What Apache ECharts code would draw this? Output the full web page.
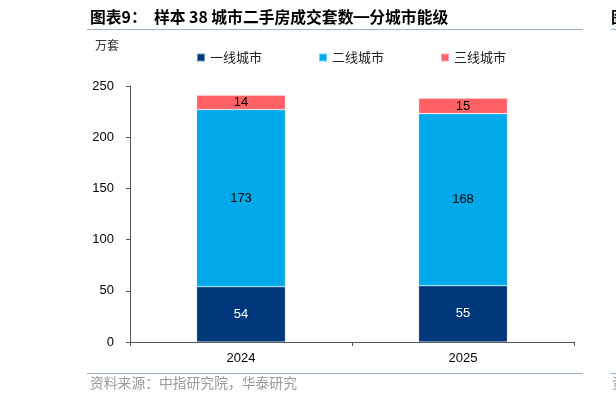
<!DOCTYPE html>
<html>
<head>
<meta charset="utf-8">
<script src="https://cdn.jsdelivr.net/npm/echarts@6/dist/echarts.min.js"></script>
<style>
html,body{margin:0;padding:0;background:#fff;}
#c{width:616px;height:403px;}
</style>
</head>
<body>
<div id="c"></div>
<script>
const categories = ['2024', '2025'];
const tier1 = [54, 55];
const tier2 = [173, 168];
const tier3 = [14, 15];
const seriesNames = ['一线城市', '二线城市', '三线城市'];
const yTicks = [0, 50, 100, 150, 200, 250];

const chart = echarts.init(document.getElementById('c'));
const cjk = '"Noto Sans CJK SC", sans-serif';
const lat = '"Liberation Sans", Arial, sans-serif';
const colors = ['#00387B', '#00AAEA', '#FF6266'];
const labelColors = ['#ffffff', '#000000', '#000000'];
const dataSets = [tier1, tier2, tier3];

chart.setOption({
  animation: false,
  color: colors,
  grid: { left: 130, right: 42, top: 86, bottom: 61 },
  legend: {
    top: 46, left: 191,
    itemWidth: 8, itemHeight: 8, itemGap: 56,
    icon: 'rect',
    textStyle: { fontFamily: cjk, fontSize: 13, color: '#222' },
    data: seriesNames
  },
  xAxis: {
    type: 'category',
    data: categories,
    axisLine: { lineStyle: { color: '#555', width: 1 } },
    axisTick: { show: true, alignWithLabel: false, length: 4, lineStyle: { color: '#555' } },
    axisLabel: { margin: 10, fontFamily: lat, fontSize: 13, color: '#000' }
  },
  yAxis: {
    type: 'value',
    min: yTicks[0], max: yTicks[yTicks.length - 1], interval: 50,
    axisLine: { show: true, lineStyle: { color: '#555', width: 1 } },
    axisTick: { show: true, length: 4, lineStyle: { color: '#555' } },
    splitLine: { show: false },
    axisLabel: { margin: 16, fontFamily: lat, fontSize: 13, color: '#000' }
  },
  series: dataSets.map((d, i) => ({
    name: seriesNames[i],
    type: 'bar',
    stack: 'total',
    barWidth: '40%',
    data: d,
    itemStyle: { borderColor: 'rgba(255,255,255,0.45)', borderWidth: 0.6 },
    label: {
      show: true, position: 'inside',
      fontFamily: lat, fontSize: 13, color: labelColors[i]
    }
  })),
  graphic: [
    { type: 'text', left: 90, top: 9, style: { text: '图表9：  样本 38 城市二手房成交套数━分城市能级', font: 'bold 15.8px ' + cjk, fill: '#000' } },
    { type: 'line', shape: { x1: 87, y1: 29.5, x2: 583, y2: 29.5 }, style: { stroke: '#9DB1CC', lineWidth: 1.2 } },
    { type: 'text', left: 95, top: 39, style: { text: '万套', font: '12px ' + cjk, fill: '#333' } },
    { type: 'line', shape: { x1: 87, y1: 373.5, x2: 583, y2: 373.5 }, style: { stroke: '#9DB1CC', lineWidth: 1.2 } },
    { type: 'text', left: 90, top: 376, style: { text: '资料来源：中指研究院，华泰研究', font: '13.8px ' + cjk, fill: '#999' } },
    { type: 'line', shape: { x1: 611, y1: 29.5, x2: 616, y2: 29.5 }, style: { stroke: '#9DB1CC', lineWidth: 1.2 } },
    { type: 'text', x: 611, y: 9, style: { text: '图', font: 'bold 15.8px ' + cjk, fill: '#000' } },
    { type: 'line', shape: { x1: 611, y1: 373.5, x2: 616, y2: 373.5 }, style: { stroke: '#9DB1CC', lineWidth: 1.2 } },
    { type: 'text', x: 612, y: 376, style: { text: '资', font: '13.8px ' + cjk, fill: '#999' } }
  ]
});
</script>
</body>
</html>
